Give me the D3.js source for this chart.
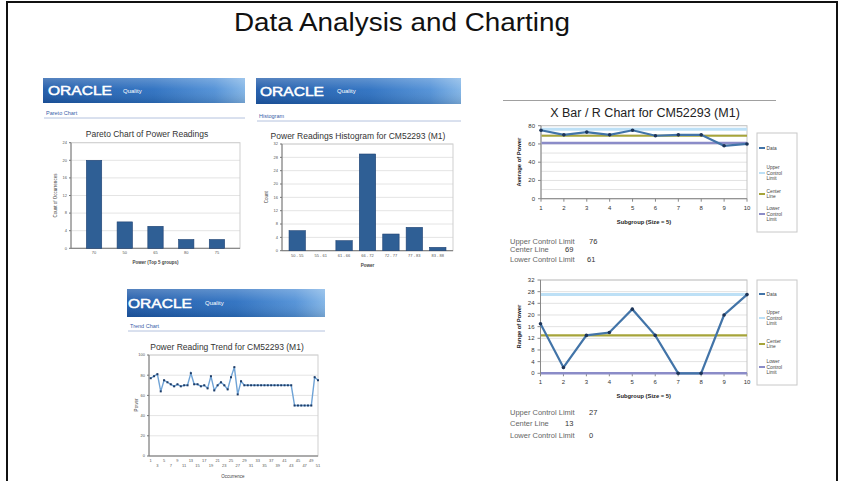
<!DOCTYPE html>
<html><head><meta charset="utf-8">
<script src="https://cdn.jsdelivr.net/npm/d3@7"></script>
<style>body{margin:0;background:#fff}svg{display:block}text{font-family:"Liberation Sans",Arial,sans-serif}</style>
</head><body><svg id="c" width="843" height="481"></svg>
<script>
// ---------- DATA ----------
const slideTitle = "Data Analysis and Charting";
const paretoCategories = ["70", "50", "65", "80", "75"];
const paretoCounts = [20, 6, 5, 2, 2];
const paretoTicks = [0, 4, 8, 12, 16, 20, 24];
const histBins = ["50 - 55", "55 - 61", "61 - 66", "66 - 72", "72 - 77", "77 - 83", "83 - 88"];
const histCounts = [6, 0, 3, 29, 5, 7, 1];
const histTicks = [0, 4, 8, 12, 16, 20, 24, 28, 32];
const trendValues = [77, 79, 81, 64, 75, 73, 71, 69, 71, 69, 70, 70, 82, 71, 71, 69, 70, 67, 79, 65,
  70, 73, 70, 66, 78, 88, 61, 74, 70, 70, 70, 70, 70, 70, 70, 70, 70, 70, 70, 70,
  70, 70, 70, 50, 50, 50, 50, 50, 50, 78, 75];
const trendTicks = [0, 20, 40, 60, 80, 100];
const subgroups = [1, 2, 3, 4, 5, 6, 7, 8, 9, 10];
const xbarValues = [75, 70, 73, 70, 75, 69, 70, 70, 58, 60];
const xbarLimits = [76, 69, 61];
const xbarTicks = [0, 20, 40, 60, 80];
const rangeValues = [17, 2, 13, 14, 22, 13, 0, 0, 20, 27];
const rangeLimits = [27, 13, 0];
const rangeTicks = [0, 4, 8, 12, 16, 20, 24, 28, 32];
const limitNames = ["Upper Control Limit", "Center Line", "Lower Control Limit"];
const legendLabels = [["Data"], ["Upper", "Control", "Limit"], ["Center", "Line"], ["Lower", "Control", "Limit"]];

// ---------- DRAW ----------
const svg = d3.select("#c");
const defs = svg.append("defs");
const g1 = defs.append("linearGradient").attr("id", "hdr").attr("x1", 0).attr("x2", 1).attr("y1", 0).attr("y2", 0);
[["0%", "#1c58a8"], ["55%", "#2b6fc0"], ["85%", "#4f8fd6"], ["100%", "#7fb3e6"]].forEach(s => g1.append("stop").attr("offset", s[0]).attr("stop-color", s[1]));
const g2 = defs.append("linearGradient").attr("id", "hdrV").attr("x1", 0).attr("x2", 0).attr("y1", 0).attr("y2", 1);
[["0%", "#ffffff", 0.25], ["45%", "#ffffff", 0.05], ["100%", "#000000", 0.12]].forEach(s => g2.append("stop").attr("offset", s[0]).attr("stop-color", s[1]).attr("stop-opacity", s[2]));

// slide frame
svg.append("path").attr("d", "M7,490 V2 H837 V490").attr("fill", "none").attr("stroke", "#111").attr("stroke-width", 2);
svg.append("text").attr("x", 402).attr("y", 31).attr("text-anchor", "middle").attr("font-size", 26)
  .attr("textLength", 336).attr("lengthAdjust", "spacingAndGlyphs").attr("fill", "#111").text(slideTitle);

function oraclePanel(o) {
  const g = svg.append("g");
  g.append("rect").attr("x", o.x).attr("y", o.y).attr("width", o.w).attr("height", o.h).attr("fill", "url(#hdr)");
  g.append("rect").attr("x", o.x).attr("y", o.y).attr("width", o.w).attr("height", o.h).attr("fill", "url(#hdrV)");
  g.append("text").attr("x", o.ox).attr("y", o.y + o.h / 2 + 4.5).attr("font-size", 13).attr("font-weight", "normal")
    .attr("fill", "#fff").attr("stroke", "#fff").attr("stroke-width", 0.5)
    .attr("textLength", 64).attr("lengthAdjust", "spacingAndGlyphs").text("ORACLE");
  g.append("text").attr("x", o.qx).attr("y", o.y + o.h / 2 + 2).attr("font-size", 6).attr("fill", "#fff").text("Quality");
  g.append("text").attr("x", o.x + 3).attr("y", o.ly).attr("font-size", 5.5).attr("fill", "#3a5ea8").text(o.link);
  g.append("line").attr("x1", o.x + 1).attr("x2", o.x + o.w).attr("y1", o.ly + 3).attr("y2", o.ly + 3).attr("stroke", "#b4c2de").attr("stroke-width", 1);
}

function frame(g, x, y, yTicks, fmtSize) {
  const [x0, x1] = x.range(), [y0, y1] = y.range();
  g.append("g").selectAll("line").data(yTicks).join("line")
    .attr("x1", x0).attr("x2", x1).attr("y1", d => y(d)).attr("y2", d => y(d)).attr("stroke", "#e4e4e4");
  g.append("rect").attr("x", x0).attr("y", y1).attr("width", x1 - x0).attr("height", y0 - y1).attr("fill", "none").attr("stroke", "#cfcfcf");
  g.append("line").attr("x1", x0).attr("x2", x0).attr("y1", y1).attr("y2", y0).attr("stroke", "#777");
  g.append("line").attr("x1", x0).attr("x2", x1).attr("y1", y0).attr("y2", y0).attr("stroke", "#777");
  g.append("g").selectAll("text").data(yTicks).join("text").attr("x", x0 - 4).attr("y", d => y(d) + 1.3)
    .attr("text-anchor", "end").attr("font-size", fmtSize).attr("fill", "#555").text(d => d);
  g.append("g").selectAll("line").data(yTicks).join("line").attr("x1", x0 - 2).attr("x2", x0).attr("y1", d => y(d)).attr("y2", d => y(d)).attr("stroke", "#777");
}

function barChart(o) {
  const g = svg.append("g");
  const x = d3.scaleBand().domain(o.cats).range([o.l, o.r]).padding(o.pad);
  const y = d3.scaleLinear().domain([0, o.max]).range([o.b, o.t]);
  g.append("text").attr("x", o.tx).attr("y", o.ty).attr("text-anchor", "middle").attr("font-size", 8.5).attr("fill", "#333").text(o.title);
  frame(g, { range: () => [o.l, o.r] }, y, o.ticks, 4);
  g.append("g").selectAll("rect").data(o.vals).join("rect")
    .attr("x", (d, i) => x(o.cats[i])).attr("width", x.bandwidth())
    .attr("y", d => y(d)).attr("height", d => o.b - y(d))
    .attr("fill", "#2f5f95").attr("stroke", "#1f4272").attr("stroke-width", 0.6);
  g.append("g").selectAll("text").data(o.cats).join("text").attr("x", d => x(d) + x.bandwidth() / 2).attr("y", o.b + 6)
    .attr("text-anchor", "middle").attr("font-size", 4).attr("fill", "#555").text(d => d);
  g.append("text").attr("x", (o.l + o.r) / 2).attr("y", o.b + 16).attr("text-anchor", "middle").attr("font-size", 4.5)
    .attr("font-weight", "bold").attr("fill", "#444").text(o.xTitle);
  g.append("text").attr("transform", `translate(${o.yx},${(o.t + o.b) / 2}) rotate(-90)`).attr("text-anchor", "middle")
    .attr("font-size", 4.5).attr("fill", "#444").text(o.yTitle);
}

// Pareto panel
oraclePanel({ x: 43, y: 78, w: 202, h: 25, ox: 48, qx: 123, ly: 115, link: "Pareto Chart" });
barChart({ cats: paretoCategories, vals: paretoCounts, ticks: paretoTicks, max: 24, l: 71, r: 240, t: 142.7, b: 248.3, pad: 0.5,
  title: "Pareto Chart of Power Readings", tx: 147, ty: 137, xTitle: "Power (Top 5 groups)", yTitle: "Count of Occurrences", yx: 57 });

// Histogram panel
oraclePanel({ x: 256, y: 78, w: 205, h: 26, ox: 260, qx: 337, ly: 118, link: "Histogram" });
barChart({ cats: histBins, vals: histCounts, ticks: histTicks, max: 32, l: 282, r: 453, t: 144, b: 250.7, pad: 0.3,
  title: "Power Readings Histogram for CM52293 (M1)", tx: 358, ty: 139, xTitle: "Power", yTitle: "Count", yx: 268 });

// Trend panel
oraclePanel({ x: 127, y: 289, w: 198, h: 28, ox: 128, qx: 205, ly: 328, link: "Trend Chart" });
(function () {
  const g = svg.append("g");
  const idx = trendValues.map((d, i) => i + 1);
  const x = d3.scalePoint().domain(idx).range([150.7, 318]);
  const y = d3.scaleLinear().domain([0, 100]).range([456, 355]);
  g.append("text").attr("x", 227).attr("y", 350).attr("text-anchor", "middle").attr("font-size", 8.5).attr("fill", "#333")
    .text("Power Reading Trend for CM52293 (M1)");
  frame(g, { range: () => [149, 318] }, y, trendTicks, 4);
  g.append("path").datum(trendValues).attr("fill", "none").attr("stroke", "#6fa3d6").attr("stroke-width", 1.4)
    .attr("d", d3.line().x((d, i) => x(i + 1)).y(d => y(d)));
  g.append("g").selectAll("rect").data(trendValues).join("rect").attr("x", (d, i) => x(i + 1) - 1).attr("y", d => y(d) - 1)
    .attr("width", 2).attr("height", 2).attr("fill", "#1f3c66");
  const labs = idx.filter(d => d % 2 === 1);
  g.append("g").selectAll("text").data(labs).join("text").attr("x", d => x(d))
    .attr("y", (d, i) => i % 2 === 0 ? 462 : 467).attr("text-anchor", "middle").attr("font-size", 4).attr("fill", "#555").text(d => d);
  g.append("text").attr("x", 233).attr("y", 478).attr("text-anchor", "middle").attr("font-size", 4.5).attr("fill", "#444").text("Occurrence");
  g.append("text").attr("transform", "translate(138,405) rotate(-90)").attr("text-anchor", "middle").attr("font-size", 4.5).attr("fill", "#444").text("Power");
})();

// X Bar / R
svg.append("line").attr("x1", 503).attr("x2", 776).attr("y1", 100.5).attr("y2", 100.5).attr("stroke", "#a0a0a0");
svg.append("text").attr("x", 645).attr("y", 117).attr("text-anchor", "middle").attr("font-size", 12.5).attr("fill", "#222")
  .text("X Bar / R Chart for CM52293 (M1)");

const limitColors = ["#bde0f6", "#a6a43a", "#8b8cc8"];
const limitWidths = [3, 2.2, 2.5];

function controlChart(o) {
  const g = svg.append("g");
  const x = d3.scalePoint().domain(subgroups).range([o.l, o.r]);
  const y = d3.scaleLinear().domain([0, o.max]).range([o.b, o.t]);
  g.append("g").selectAll("line").data(o.grid).join("line").attr("x1", o.l).attr("x2", o.r)
    .attr("y1", d => y(d)).attr("y2", d => y(d)).attr("stroke", "#e2e2e2");
  g.append("rect").attr("x", o.l).attr("y", o.t).attr("width", o.r - o.l).attr("height", o.b - o.t).attr("fill", "none").attr("stroke", "#c4c4c4");
  g.append("line").attr("x1", o.l).attr("x2", o.l).attr("y1", o.t).attr("y2", o.b).attr("stroke", "#888");
  g.append("line").attr("x1", o.l).attr("x2", o.r).attr("y1", o.b).attr("y2", o.b).attr("stroke", "#888");
  g.append("g").selectAll("line").data(o.ticks).join("line").attr("x1", o.l - 3).attr("x2", o.l).attr("y1", d => y(d)).attr("y2", d => y(d)).attr("stroke", "#888");
  g.append("g").selectAll("line").data(subgroups).join("line").attr("x1", d => x(d)).attr("x2", d => x(d)).attr("y1", o.b).attr("y2", o.b + 3).attr("stroke", "#888");
  g.append("g").selectAll("text").data(o.ticks).join("text").attr("x", o.l - 6).attr("y", d => y(d) + 2)
    .attr("text-anchor", "end").attr("font-size", 6).attr("fill", "#333").text(d => d);
  g.append("g").selectAll("text").data(subgroups).join("text").attr("x", d => x(d)).attr("y", o.b + 11)
    .attr("text-anchor", "middle").attr("font-size", 6).attr("fill", "#333").text(d => d);
  g.append("text").attr("x", (o.l + o.r) / 2).attr("y", o.b + 25).attr("text-anchor", "middle").attr("font-size", 5.8)
    .attr("font-weight", "bold").attr("fill", "#222").text("Subgroup (Size = 5)");
  g.append("text").attr("transform", `translate(521,${(o.t + o.b) / 2}) rotate(-90)`).attr("text-anchor", "middle")
    .attr("font-size", 5.8).attr("font-weight", "bold").attr("fill", "#222").text(o.yTitle);
  g.append("g").selectAll("line").data(o.limits).join("line").attr("x1", o.l + 0.5).attr("x2", o.r)
    .attr("y1", d => y(d)).attr("y2", d => y(d)).attr("stroke", (d, i) => limitColors[i]).attr("stroke-width", (d, i) => limitWidths[i]);
  g.append("path").datum(o.vals).attr("fill", "none").attr("stroke", "#4274a8").attr("stroke-width", 2.2)
    .attr("d", d3.line().x((d, i) => x(subgroups[i])).y(d => y(d)));
  g.append("g").selectAll("circle").data(o.vals).join("circle").attr("cx", (d, i) => x(subgroups[i])).attr("cy", d => y(d))
    .attr("r", 1.8).attr("fill", "#1c3458");
  // legend
  const lg = g.append("g");
  lg.append("rect").attr("x", 757).attr("y", o.lt).attr("width", 40).attr("height", o.lh).attr("fill", "#fff").attr("stroke", "#c8c8c8");
  const swColors = ["#4274a8"].concat(limitColors);
  legendLabels.forEach((lines, k) => {
    const cy = o.ly[k];
    lg.append("line").attr("x1", 759).attr("x2", 765).attr("y1", cy).attr("y2", cy).attr("stroke", swColors[k]).attr("stroke-width", 2);
    const top = cy - (lines.length - 1) * 2.6;
    lg.append("g").selectAll("text").data(lines).join("text").attr("x", 766.5).attr("y", (d, j) => top + j * 5.2 + 1.6)
      .attr("font-size", 4.8).attr("fill", "#444").text(d => d);
  });
  // stats
  limitNames.forEach((nm, k) => {
    g.append("text").attr("x", 510).attr("y", o.sy[k]).attr("font-size", 7.5).attr("fill", "#666").text(nm);
    g.append("text").attr("x", o.sx[k]).attr("y", o.sy[k]).attr("font-size", 7.5).attr("fill", "#333").text(o.limits[k]);
  });
}

controlChart({ vals: xbarValues, limits: xbarLimits, ticks: xbarTicks, grid: [0, 10, 20, 30, 40, 50, 60, 70, 80], max: 80,
  l: 541, r: 747, t: 125.7, b: 198.7, yTitle: "Average of Power",
  lt: 133, lh: 99, ly: [148, 173, 194, 214], sy: [243.5, 252, 261.5], sx: [589, 565, 587] });
controlChart({ vals: rangeValues, limits: rangeLimits, ticks: rangeTicks, grid: rangeTicks, max: 32,
  l: 540.5, r: 747, t: 280, b: 373.3, yTitle: "Range of Power",
  lt: 280, lh: 105, ly: [294, 318, 344, 367], sy: [415, 426, 437.5], sx: [589, 565, 589] });
</script></body></html>
